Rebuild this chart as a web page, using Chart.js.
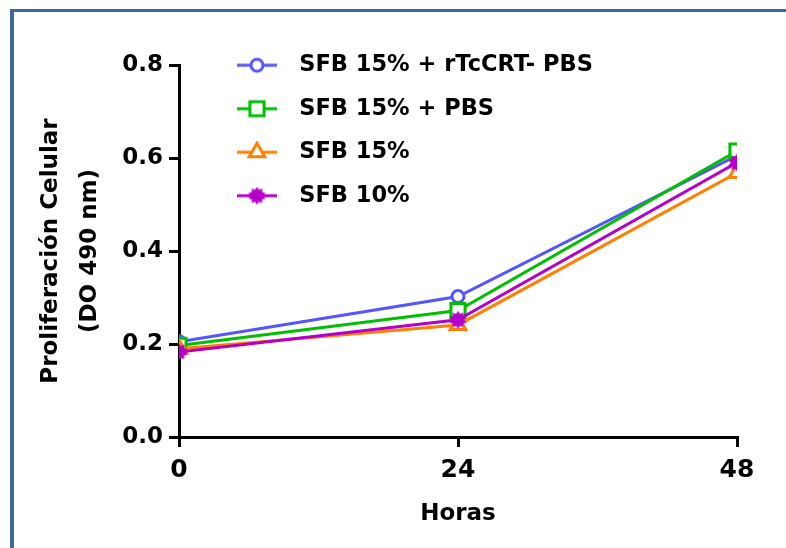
<!DOCTYPE html>
<html>
<head>
<meta charset="utf-8">
<script src="https://cdn.jsdelivr.net/npm/chart.js@4.4.1/dist/chart.umd.min.js"></script>
<style>
  html, body { margin: 0; padding: 0; background: #fff; overflow: hidden; }
  #wrap { position: relative; width: 786px; height: 548px; overflow: hidden; }
  #frame { position: absolute; left: 10px; top: 9px; width: 900px; height: 700px;
           border-top: 3px solid #41689b; border-left: 4px solid #41689b; }
  #c { position: absolute; left: 0; top: 0; }
</style>
</head>
<body>
<div id="wrap">
  <div id="frame"></div>
  <canvas id="c" width="786" height="548"></canvas>
</div>
<script>
// ---- data ----
const hours = [0, 24, 48];
const seriesLabels = ['SFB 15% + rTcCRT- PBS', 'SFB 15% + PBS', 'SFB 15%', 'SFB 10%'];
const rtccrtPbs = [0.205, 0.302, 0.605];
const pbs = [0.197, 0.272, 0.615];
const sfb15 = [0.190, 0.241, 0.568];
const sfb10 = [0.183, 0.252, 0.590];
const yTicks = [0.0, 0.2, 0.4, 0.6, 0.8];
const xTicks = [0, 24, 48];

const colors = ['#5555ff', '#00bf00', '#ff8000', '#b400c8'];
const FONT = "'DejaVu Sans', sans-serif";

// filled star marker for the 10% series
function makeStar(color) {
  const c = document.createElement('canvas');
  c.width = 19; c.height = 19;
  const g = c.getContext('2d');
  g.fillStyle = color;
  g.beginPath();
  const n = 10, ro = 9, ri = 6.3;
  for (let i = 0; i < 2 * n; i++) {
    const r = i % 2 === 0 ? ro : ri;
    const a = Math.PI * i / n - Math.PI / 2;
    const x = 9.5 + r * Math.cos(a), y = 9.5 + r * Math.sin(a);
    if (i === 0) g.moveTo(x, y); else g.lineTo(x, y);
  }
  g.closePath();
  g.fill();
  return c;
}
const starImg = makeStar(colors[3]);

const styles = [
  { pointStyle: 'circle', radius: 6, bg: '#ffffff' },
  { pointStyle: 'rect', radius: 10, bg: '#ffffff' },
  { pointStyle: 'triangle', radius: 9, bg: '#ffffff' },
  { pointStyle: starImg, radius: 9, bg: colors[3] }
];

// legend symbols: line with marker
function makeLegendImg(i) {
  const c = document.createElement('canvas');
  c.width = 62; c.height = 22;
  const g = c.getContext('2d');
  g.strokeStyle = colors[i];
  g.lineWidth = 3;
  g.beginPath(); g.moveTo(11, 11); g.lineTo(51, 11); g.stroke();
  const s = styles[i];
  if (typeof s.pointStyle === 'string') {
    g.fillStyle = s.bg; g.strokeStyle = colors[i]; g.lineWidth = 3;
    Chart.helpers.drawPoint(g, { pointStyle: s.pointStyle, radius: s.radius, rotation: 0, borderWidth: 3 }, 31, 11);
  } else {
    g.drawImage(s.pointStyle, 31 - 9.5, 11 - 9.5);
  }
  return c;
}

const seriesValues = [rtccrtPbs, pbs, sfb15, sfb10];
const datasets = seriesValues.map((vals, i) => ({
  label: seriesLabels[i],
  data: hours.map((h, j) => ({ x: h, y: vals[j] })),
  borderColor: colors[i],
  backgroundColor: styles[i].bg,
  borderWidth: 3,
  pointStyle: styles[i].pointStyle,
  pointRadius: styles[i].radius,
  pointHoverRadius: styles[i].radius,
  pointBorderWidth: 3,
  pointBorderColor: colors[i],
  pointBackgroundColor: styles[i].bg,
  tension: 0,
  fill: false,
  order: 4 - i
}));

const legendImgs = datasets.map((d, i) => makeLegendImg(i));

const legendPlace = {
  id: 'legendPlace',
  afterLayout(chart) {
    const lg = chart.legend;
    if (!lg) return;
    lg.left = 205; lg.top = 33; lg.right = 786; lg.bottom = 548;
  }
};

new Chart(document.getElementById('c'), {
  type: 'line',
  data: { datasets },
  plugins: [legendPlace],
  options: {
    responsive: false,
    devicePixelRatio: 1,
    animation: false,
    layout: { padding: { left: 0, top: 65, right: 49, bottom: 0 } },
    plugins: {
      tooltip: { enabled: false },
      legend: {
        position: 'chartArea',
        align: 'start',
        labels: {
          usePointStyle: true,
          pointStyleWidth: 62,
          padding: 21,
          color: '#000',
          font: { family: FONT, size: 22.5, weight: 'bold' },
          generateLabels: (chart) => chart.data.datasets.map((ds, i) => ({
            text: ds.label,
            pointStyle: legendImgs[i],
            fillStyle: colors[i],
            strokeStyle: colors[i],
            lineWidth: 0,
            hidden: false,
            datasetIndex: i
          }))
        }
      }
    },
    scales: {
      x: {
        type: 'linear',
        min: 0, max: 48,
        afterBuildTicks: (s) => { s.ticks = xTicks.map(v => ({ value: v })); },
        afterFit: (s) => { s.height = 111; },
        border: { display: true, color: '#000', width: 3 },
        grid: { display: true, drawOnChartArea: false, drawTicks: true, tickLength: 10, color: '#000', lineWidth: 3 },
        ticks: {
          color: '#000', padding: 8,
          font: { family: FONT, size: 25, weight: 'bold' },
          callback: (v) => String(v)
        },
        title: {
          display: true, text: 'Horas', color: '#000',
          font: { family: FONT, size: 23, weight: 'bold', lineHeight: 1.2 },
          padding: { top: 0, bottom: 20 }
        }
      },
      y: {
        type: 'linear',
        min: 0, max: 0.8,
        afterBuildTicks: (s) => { s.ticks = yTicks.map(v => ({ value: v })); },
        afterFit: (s) => { s.width = 179; },
        border: { display: true, color: '#000', width: 3 },
        grid: { display: true, drawOnChartArea: false, drawTicks: true, tickLength: 10, color: '#000', lineWidth: 3 },
        ticks: {
          color: '#000', padding: 6,
          font: { family: FONT, size: 23, weight: 'bold' },
          callback: (v) => Number(v).toFixed(1)
        },
        title: {
          display: true, text: ['Proliferación Celular', '(DO 490 nm)'], color: '#000',
          font: { family: FONT, size: 23, weight: 'bold', lineHeight: 1.7 },
          padding: { top: 31, bottom: 0 }
        }
      }
    }
  }
});
</script>
</body>
</html>
